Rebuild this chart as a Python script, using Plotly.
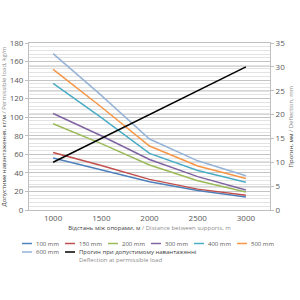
import plotly.graph_objects as go

distance = [1000, 1500, 2000, 2500, 3000]
load_100 = [56, 43.5, 30.5, 21, 14]
load_150 = [62, 48, 33, 22.5, 16]
load_200 = [93, 71.5, 48.5, 31.5, 19.5]
load_300 = [104, 80, 54.5, 36, 21.5]
load_400 = [136.5, 99.5, 61, 42.5, 30]
load_500 = [151.5, 111, 69, 47.5, 34]
load_600 = [168.5, 123.5, 76.5, 53, 37]
deflection = [10, 15, 20, 25, 30]

series_names = ["100 mm", "150 mm", "200 mm", "300 mm", "400 mm", "500 mm", "600 mm"]
series_values = [load_100, load_150, load_200, load_300, load_400, load_500, load_600]
series_colors = ["#4f81bd", "#c0504d", "#9bbb59", "#8064a2", "#4bacc6", "#f79646", "#95b3d7"]
defl_name_ua = "Прогин при допустимому навантаженні"
defl_name_en = "Deflection at permissible load"
defl_color = "#000000"

FONT = "Open Sans"
TXT = "#595959"
LIGHT = "#8c8c8c"

fig = go.Figure()
for name, vals, col in zip(series_names, series_values, series_colors):
    fig.add_trace(go.Scatter(x=distance, y=vals, mode="lines", name=name,
                             line=dict(color=col, width=1.5), yaxis="y"))
fig.add_trace(go.Scatter(x=distance, y=deflection, mode="lines",
                         name=defl_name_ua + " / " + defl_name_en,
                         line=dict(color=defl_color, width=1.5), yaxis="y2"))

# manual compact legend (paper coordinates)
plot_top, plot_bot, plot_l, plot_r = 43, 210, 29, 270
def px_x(p):
    return (p - plot_l) / (plot_r - plot_l)
def px_y(p):
    return (plot_bot - p) / (plot_bot - plot_top)

legend_items = list(zip(series_names, series_colors)) + [(defl_name_ua, defl_color)]
shapes = []
annots = []
for i, (name, col) in enumerate(legend_items):
    row, colidx = divmod(i, 6)
    x0 = 22 + colidx * 43
    yy = 243.5 + row * 8.5
    shapes.append(dict(type="line", xref="paper", yref="paper",
                       x0=px_x(x0), x1=px_x(x0 + 10), y0=px_y(yy), y1=px_y(yy),
                       line=dict(color=col, width=1.5)))
    txtcol = "#404040" if name == defl_name_ua else TXT
    annots.append(dict(xref="paper", yref="paper", x=px_x(x0 + 13), y=px_y(yy),
                       text=name, showarrow=False, xanchor="left", yanchor="middle",
                       borderpad=0, font=dict(family=FONT, size=6, color=txtcol)))
annots.append(dict(xref="paper", yref="paper", x=px_x(22 + 43 + 13), y=px_y(243.5 + 2 * 8.0),
                   text=defl_name_en, showarrow=False, xanchor="left", yanchor="middle",
                   borderpad=0, font=dict(family=FONT, size=6, color=LIGHT)))

fig.update_layout(
    width=300, height=300,
    margin=dict(l=plot_l, r=300 - plot_r, t=plot_top, b=300 - plot_bot, autoexpand=False),
    paper_bgcolor="white", plot_bgcolor="white",
    showlegend=False,
    font=dict(family=FONT, size=8, color=TXT),
    shapes=shapes, annotations=annots,
    xaxis=dict(range=[750, 3250], tickvals=distance, ticktext=[str(d) for d in distance],
               automargin=False,
               showgrid=False, zeroline=False, showline=True, linecolor="#bfbfbf", mirror=True,
               ticks="", tickfont=dict(size=8, color=TXT),
               title=dict(text="<span style='color:#404040'>Відстань між опорами, м</span> / Distance between supports, m",
                          font=dict(size=6, color=LIGHT), standoff=4)),
    yaxis=dict(range=[0, 180], dtick=20, showgrid=True, gridcolor="#c4c4c4", gridwidth=1,
               automargin=False,
               minor=dict(dtick=4, showgrid=True, gridcolor="#e3e3e3", gridwidth=1),
               zeroline=False, showline=True, linecolor="#bfbfbf", ticks="outside", ticklen=3,
               tickcolor="#bfbfbf", tickfont=dict(size=8, color=TXT),
               title=dict(text="<span style='color:#404040'>Допустиме навантаження, кг/м</span> / Permissible load, kg/m",
                          font=dict(size=6, color=LIGHT), standoff=2)),
    yaxis2=dict(range=[0, 35], dtick=5, overlaying="y", side="right", showgrid=True,
                automargin=False,
                gridcolor="#d6d6d6", zeroline=False, showline=True, linecolor="#bfbfbf",
                ticks="outside", ticklen=3, tickcolor="#bfbfbf", tickfont=dict(size=8, color=TXT),
                title=dict(text="<span style='color:#404040'>Прогин, мм</span> / Deflection, mm",
                           font=dict(size=6, color=LIGHT), standoff=4)),
)

fig.write_html("out.html")
